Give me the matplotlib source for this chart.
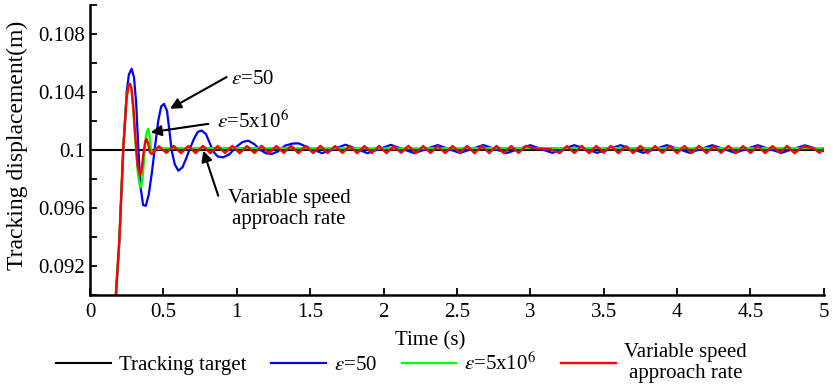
import matplotlib
matplotlib.use("Agg")
import matplotlib.pyplot as plt
from matplotlib.ticker import MultipleLocator, FuncFormatter

plt.rcParams['font.family'] = ['Liberation Serif', 'DejaVu Serif']
plt.rcParams['mathtext.fontset'] = 'stix'

# Tracking target
target_t = [0, 5]
target_v = [0.1, 0.1]

# epsilon = 50 (blue)
blue_t = [0.170, 0.200, 0.227, 0.250, 0.265, 0.284, 0.300, 0.315, 0.329, 0.345, 0.362, 0.381,
          0.400, 0.420, 0.443, 0.465, 0.485, 0.504, 0.525, 0.545, 0.556, 0.578, 0.602, 0.630,
          0.655, 0.681, 0.710, 0.735, 0.761, 0.790, 0.815, 0.840, 0.870, 0.908, 0.950, 0.995,
          1.040, 1.078, 1.120, 1.160, 1.200, 1.238, 1.280, 1.330, 1.380, 1.420,
          1.50, 1.58, 1.66, 1.74, 1.815, 1.89, 1.97, 2.05, 2.13, 2.21, 2.29, 2.37, 2.445, 2.52,
          2.60, 2.68, 2.76, 2.84, 2.92, 3.00, 3.075, 3.15, 3.225, 3.30, 3.38, 3.455, 3.535, 3.615,
          3.695, 3.77, 3.85, 3.93, 4.01, 4.085, 4.16, 4.24, 4.32, 4.395, 4.47, 4.55, 4.63, 4.71,
          4.79, 4.87, 4.95, 5.0]
blue_v = [0.0888, 0.0936, 0.1000, 0.1040, 0.1052, 0.1056, 0.1050, 0.1032, 0.1002, 0.0974, 0.0962, 0.09615,
          0.0969, 0.0983, 0.1002, 0.1020, 0.1030, 0.10318, 0.1027, 0.1010, 0.1000, 0.0990, 0.09857, 0.0988,
          0.0994, 0.1001, 0.1008, 0.10125, 0.10134, 0.1011, 0.1005, 0.0999, 0.09955, 0.09949, 0.0997, 0.1002,
          0.10055, 0.10064, 0.1004, 0.1000, 0.09977, 0.09972, 0.0999, 0.1003, 0.10044, 0.10046,
          0.10012, 0.09978, 0.10005, 0.10036, 0.10008, 0.09978, 0.10006, 0.10035, 0.10006, 0.09978, 0.10006, 0.10034, 0.10006, 0.09979,
          0.10006, 0.10034, 0.10006, 0.09979, 0.10006, 0.10033, 0.10006, 0.0998, 0.10006, 0.10033, 0.10006, 0.0998, 0.10006, 0.10033,
          0.10006, 0.0998, 0.10006, 0.10033, 0.10006, 0.0998, 0.10006, 0.10033, 0.10006, 0.0998, 0.10006, 0.10033, 0.10006, 0.0998,
          0.10006, 0.10032, 0.10008, 0.09992]

# epsilon = 5x10^6 (green)
green_t = [0.170, 0.200, 0.227, 0.250, 0.262, 0.272, 0.282, 0.295, 0.310, 0.325, 0.338, 0.347,
           0.358, 0.370, 0.382, 0.392, 0.397, 0.405, 0.415, 0.425, 0.435, 0.450, 0.500,
           1.0, 2.0, 3.0, 4.0, 5.0]
green_v = [0.0890, 0.0938, 0.1002, 0.1037, 0.1044, 0.10455, 0.1043, 0.1028, 0.1005, 0.0985, 0.0976, 0.09742,
           0.0980, 0.0995, 0.1010, 0.10140, 0.10145, 0.1010, 0.1001, 0.09985, 0.09988, 0.10005, 0.10012,
           0.10013, 0.10011, 0.10013, 0.10012, 0.10012]

# variable speed approach rate (red)
red_t = [0.170, 0.200, 0.227, 0.250, 0.262, 0.272, 0.282, 0.295, 0.310, 0.325, 0.341, 0.352,
         0.365, 0.377, 0.386, 0.397, 0.410, 0.422,
         0.47, 0.52, 0.57, 0.62, 0.67, 0.72, 0.77, 0.82, 0.87, 0.92, 0.97, 1.02, 1.07, 1.12,
         1.17, 1.22, 1.27, 1.32, 1.37, 1.42, 1.47, 1.52, 1.57, 1.62, 1.67, 1.72, 1.77, 1.82,
         1.87, 1.92, 1.97, 2.02, 2.07, 2.12, 2.17, 2.22, 2.27, 2.32, 2.37, 2.42, 2.47, 2.52,
         2.57, 2.62, 2.67, 2.72, 2.77, 2.82, 2.87, 2.92, 2.97, 3.02, 3.08, 3.14, 3.20, 3.25,
         3.30, 3.35, 3.40, 3.45, 3.50, 3.55, 3.60, 3.65, 3.70, 3.75, 3.80, 3.85, 3.90, 3.95,
         4.00, 4.05, 4.10, 4.15, 4.20, 4.25, 4.30, 4.35, 4.40, 4.45, 4.50, 4.55, 4.60, 4.65,
         4.70, 4.75, 4.80, 4.86, 4.93, 4.97, 5.0]
red_v = [0.0890, 0.0938, 0.1002, 0.1036, 0.1044, 0.10457, 0.1043, 0.1030, 0.1008, 0.0989, 0.09822, 0.0986,
         0.0998, 0.1006, 0.10076, 0.1004, 0.0998, 0.09972,
         0.10025, 0.09980, 0.10028, 0.09978, 0.10027, 0.09979, 0.10028, 0.09978, 0.10027, 0.09980, 0.10028, 0.09978, 0.10027, 0.09979,
         0.10028, 0.09978, 0.10027, 0.09980, 0.10028, 0.09978, 0.10027, 0.09979, 0.10028, 0.09978, 0.10027, 0.09980, 0.10028, 0.09978,
         0.10027, 0.09979, 0.10028, 0.09978, 0.10027, 0.09980, 0.10028, 0.09978, 0.10027, 0.09979, 0.10028, 0.09978, 0.10027, 0.09980,
         0.10028, 0.09978, 0.10027, 0.09979, 0.10028, 0.09978, 0.10027, 0.09980, 0.10028, 0.10012, 0.10008, 0.10004, 0.09978, 0.10027,
         0.09979, 0.10028, 0.09978, 0.10027, 0.09980, 0.10028, 0.09978, 0.10027, 0.09979, 0.10028, 0.09978, 0.10027, 0.09980, 0.10028,
         0.09978, 0.10027, 0.09979, 0.10028, 0.09978, 0.10027, 0.09980, 0.10028, 0.09978, 0.10027, 0.09979, 0.10028, 0.09978, 0.10027,
         0.09980, 0.10028, 0.09978, 0.10024, 0.10012, 0.09980, 0.10004]

labels = ['Tracking target', r'$\varepsilon$=50', r'$\varepsilon$=5x10$^6$', 'Variable speed\napproach rate']

fig = plt.figure(figsize=(8.33, 3.85), dpi=100)
ax = fig.add_axes([0.108, 0.234, 0.881, 0.753])

ax.plot(target_t, target_v, color='black', lw=1.5, label=labels[0])
ax.plot(blue_t, blue_v, color='#0000ff', lw=1.6, label=labels[1])
ax.plot(green_t, green_v, color='#00ff00', lw=1.6, label=labels[2])
ax.plot(red_t, red_v, color='#ff0000', lw=1.7, label=labels[3])

ax.set_xlim(0, 5)
ax.set_ylim(0.09, 0.110)
ax.xaxis.set_major_locator(MultipleLocator(0.5))
ax.yaxis.set_major_locator(MultipleLocator(0.004))
ax.yaxis.set_minor_locator(MultipleLocator(0.002))
ax.yaxis.set_major_formatter(FuncFormatter(lambda v, p: '%g' % round(v, 4)))
ax.xaxis.set_major_formatter(FuncFormatter(lambda v, p: '%g' % v))
ax.tick_params(direction='in', length=5, width=1.3, labelsize=15)
ax.tick_params(which='minor', direction='in', length=5, width=1.3)
ax.tick_params(axis='x', pad=6)
for s in ['top', 'right']:
    ax.spines[s].set_visible(False)
for s in ['left', 'bottom']:
    ax.spines[s].set_linewidth(1.8)

ax.set_xlabel('Time (s)', fontsize=15)
ax.xaxis.set_label_coords(0.463, -0.125)
ax.set_ylabel('Tracking displacement(m)', fontsize=17)
ax.yaxis.set_label_coords(-0.085, 0.517)

# annotations
arw = dict(arrowstyle='-|>', color='black', lw=1.5, mutation_scale=16, shrinkA=0, shrinkB=0)
ax.annotate('', xy=(0.545, 0.10284), xytext=(0.931, 0.10503), arrowprops=arw)
ax.text(0.963, 0.10484, r'$\varepsilon$=50', fontsize=15, ha='left', va='center')
ax.annotate('', xy=(0.413, 0.10122), xytext=(0.806, 0.1018), arrowprops=arw)
ax.text(0.863, 0.10194, r'$\varepsilon$=5x10$^6$', fontsize=15, ha='left', va='center')
ax.annotate('', xy=(0.772, 0.09995), xytext=(0.874, 0.09684), arrowprops=arw)
ax.text(1.356, 0.09592, 'Variable speed\napproach rate', fontsize=15, ha='center', va='center',
        multialignment='center')

leg = fig.legend(loc='center', bbox_to_anchor=(0.482, 0.057), ncol=4, frameon=False, fontsize=15,
                 handlelength=2.6, handletextpad=0.4, columnspacing=1.2)
for t in leg.get_texts():
    t.set_multialignment('center')

fig.savefig('out.png', dpi=100)
